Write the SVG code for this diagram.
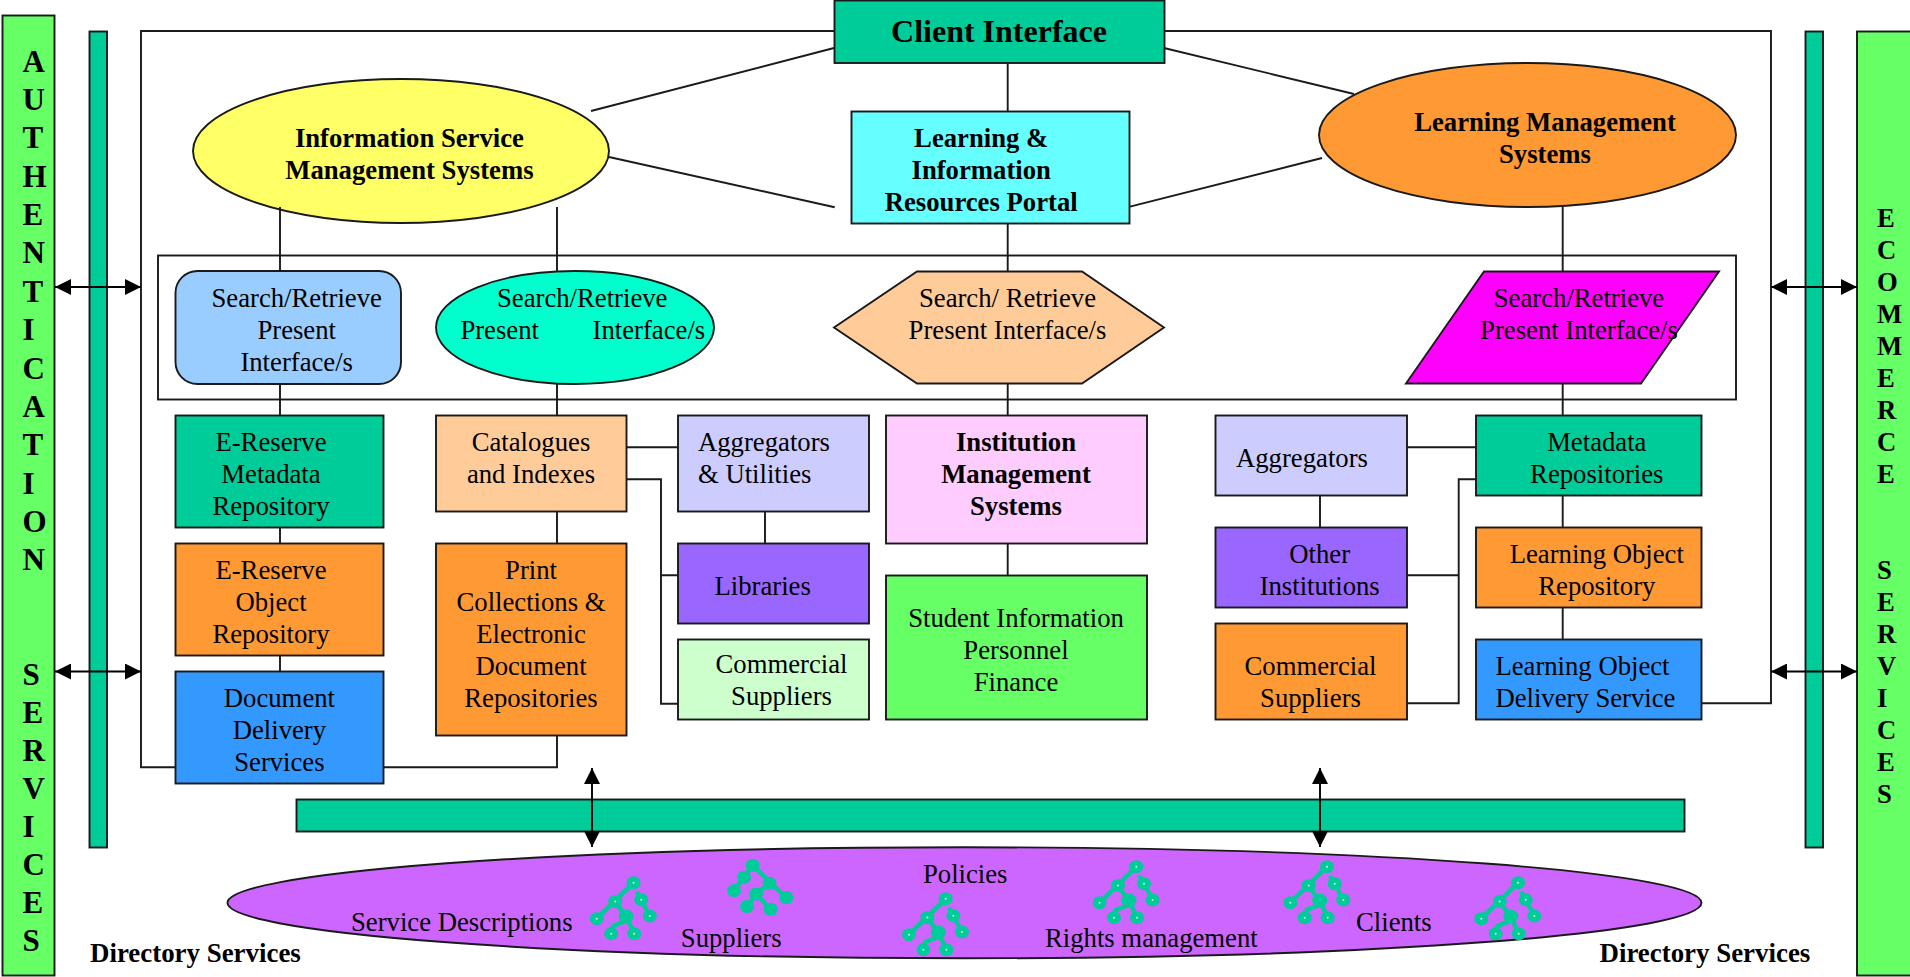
<svg xmlns="http://www.w3.org/2000/svg" width="1910" height="977" viewBox="0 0 1910 977">
<style>
text{font-family:"Liberation Serif","Times New Roman",serif;font-size:26.7px;fill:#000}
.b{font-weight:bold}
.m{text-anchor:middle}
.s{stroke:#1a1a1a;stroke-width:1.9}
.c{fill:none;stroke:#1a1a1a;stroke-width:1.9}
.a{fill:none;stroke:#000;stroke-width:1.9}
.letters text{font-weight:bold}
.big text{font-size:31px}
.ds{font-size:26.9px}
.tree line{stroke:#00cc99;stroke-width:4.5}
.tree ellipse{fill:#00cc99}
.tree circle{fill:#cfeee6}
</style>
<defs>
<marker id="ah" markerUnits="userSpaceOnUse" markerWidth="16" markerHeight="16" refX="16" refY="8" orient="auto-start-reverse" viewBox="0 0 16 16"><path d="M0 0L16 8L0 16Z" fill="#000"/></marker>
<g id="t1" class="tree">
<line x1="0" y1="0" x2="-36.7" y2="36"/><line x1="3" y1="9" x2="7.7" y2="17"/><line x1="7.7" y1="17" x2="16.3" y2="33.3"/><line x1="-15" y1="24" x2="-7.3" y2="33.7"/><line x1="-7.3" y1="33.7" x2="0.7" y2="51"/><line x1="-7.3" y1="33.7" x2="-7.3" y2="40"/><line x1="-22" y1="44" x2="-5" y2="37"/><line x1="-22.3" y1="44" x2="-22.3" y2="51"/>
<ellipse cx="0" cy="0" rx="7" ry="6.5"/><ellipse cx="-18.3" cy="18.7" rx="7" ry="6.5"/><ellipse cx="-36.7" cy="36" rx="7" ry="6.5"/><ellipse cx="7.7" cy="17" rx="7" ry="6.5"/><ellipse cx="16.3" cy="33.3" rx="7" ry="6.5"/><ellipse cx="-7.3" cy="33.7" rx="7.5" ry="7"/><ellipse cx="-22.3" cy="51" rx="7" ry="6.5"/><ellipse cx="0.7" cy="51" rx="7" ry="6.5"/>
<circle cx="0" cy="0" r="1"/><circle cx="-18.3" cy="18.7" r="1"/><circle cx="-36.7" cy="36" r="1"/><circle cx="7.7" cy="17" r="1"/><circle cx="16.3" cy="33.3" r="1"/><circle cx="-22.3" cy="51" r="1"/><circle cx="0.7" cy="51" r="1"/>
</g>
</defs>

<g id="authentication-services">
<rect class="s" x="2.5" y="15.5" width="52" height="960" fill="#66ff66"/>
<g class="letters big">
<text x="22.4" y="71.7">A</text><text x="22.4" y="110">U</text><text x="22.4" y="148.4">T</text><text x="22.4" y="186.7">H</text><text x="22.4" y="225.1">E</text><text x="22.4" y="263.4">N</text><text x="22.4" y="301.8">T</text><text x="22.4" y="340.1">I</text><text x="22.4" y="378.5">C</text><text x="22.4" y="416.8">A</text><text x="22.4" y="455.2">T</text><text x="22.4" y="493.5">I</text><text x="22.4" y="531.9">O</text><text x="22.4" y="570.2">N</text>
<text x="22.4" y="685.3">S</text><text x="22.4" y="723.3">E</text><text x="22.4" y="761.3">R</text><text x="22.4" y="799.3">V</text><text x="22.4" y="837.3">I</text><text x="22.4" y="875.3">C</text><text x="22.4" y="913.3">E</text><text x="22.4" y="951.3">S</text>
</g>
</g>
<g id="ecommerce-services">
<rect class="s" x="1857" y="31.5" width="60" height="944" fill="#66ff66"/>
<g class="letters">
<text x="1877" y="226.7">E</text><text x="1877" y="258.7">C</text><text x="1877" y="290.7">O</text><text x="1877" y="322.7">M</text><text x="1877" y="354.7">M</text><text x="1877" y="386.7">E</text><text x="1877" y="418.7">R</text><text x="1877" y="450.7">C</text><text x="1877" y="482.7">E</text>
<text x="1877" y="578.7">S</text><text x="1877" y="610.7">E</text><text x="1877" y="642.7">R</text><text x="1877" y="674.7">V</text><text x="1877" y="706.7">I</text><text x="1877" y="738.7">C</text><text x="1877" y="770.7">E</text><text x="1877" y="802.7">S</text>
</g>
</g>
<g id="directory-bar-left"><rect class="s" x="89.5" y="31.5" width="17.5" height="816" fill="#00cc99"/></g>
<g id="directory-bar-right"><rect class="s" x="1805.5" y="31.5" width="17.5" height="816" fill="#00cc99"/></g>
<g id="directory-bar-bottom"><rect class="s" x="296.5" y="799.5" width="1388" height="32" fill="#00cc99"/></g>

<g id="client-interface"><rect class="s" x="834.5" y="0.5" width="330" height="62.5" fill="#00cc99"/><text class="b m" x="999" y="42" style="font-size:32px">Client Interface</text></g>
<g id="portal"><rect class="s" x="851.5" y="111.5" width="278" height="112" fill="#66ffff"/><text class="b m" x="981.2" y="147">Learning &amp;</text><text class="b m" x="981.2" y="179">Information</text><text class="b m" x="981.2" y="211">Resources Portal</text></g>
<g id="ismss"><ellipse class="s" cx="401" cy="151" rx="208" ry="72" fill="#ffff66"/><text class="b m" x="409.4" y="147">Information Service</text><text class="b m" x="409.4" y="179">Management Systems</text></g>
<g id="lms"><ellipse class="s" cx="1527.5" cy="135" rx="208.5" ry="72" fill="#ff9933"/><text class="b m" x="1545" y="131">Learning Management</text><text class="b m" x="1545" y="163">Systems</text></g>

<g id="search-rounded"><rect class="s" x="175.5" y="271" width="225.5" height="113" rx="22" fill="#99ccff"/><text class="m" x="296.7" y="307">Search/Retrieve</text><text class="m" x="296.7" y="339">Present</text><text class="m" x="296.7" y="371">Interface/s</text></g>
<g id="search-ellipse"><ellipse class="s" cx="575" cy="327.5" rx="139" ry="56.5" fill="#00ffcc"/><text x="497" y="307">Search/Retrieve</text><text x="460.4" y="339">Present</text><text x="592.6" y="339">Interface/s</text></g>
<g id="search-hexagon"><polygon class="s" points="917,271.5 1082,271.5 1164,327.5 1082,383.5 917,383.5 834,327.5" fill="#ffcc99"/><text class="m" x="1007.5" y="307">Search/ Retrieve</text><text class="m" x="1007.5" y="339">Present Interface/s</text></g>
<g id="search-parallelogram"><polygon class="s" points="1484,271.5 1719,271.5 1641,383.5 1406,383.5" fill="#ff00ff"/><text class="m" x="1579" y="307">Search/Retrieve</text><text class="m" x="1579" y="339">Present Interface/s</text></g>

<g id="ereserve-metadata"><rect class="s" x="175.5" y="415.5" width="208" height="112" fill="#00cc99"/><text class="m" x="271" y="451.4">E-Reserve</text><text class="m" x="271" y="483.4">Metadata</text><text class="m" x="271" y="515.4">Repository</text></g>
<g id="ereserve-object"><rect class="s" x="175.5" y="543.5" width="208" height="112" fill="#ff9933"/><text class="m" x="271" y="579.4">E-Reserve</text><text class="m" x="271" y="611.4">Object</text><text class="m" x="271" y="643.4">Repository</text></g>
<g id="document-delivery"><rect class="s" x="175.5" y="671.5" width="208" height="112" fill="#3399ff"/><text class="m" x="279.4" y="707.4">Document</text><text class="m" x="279.4" y="739.4">Delivery</text><text class="m" x="279.4" y="771.4">Services</text></g>
<g id="catalogues"><rect class="s" x="436" y="415.5" width="190.5" height="96" fill="#ffcc99"/><text class="m" x="531" y="451.4">Catalogues</text><text class="m" x="531" y="483.4">and Indexes</text></g>
<g id="print-collections"><rect class="s" x="436" y="543.5" width="190.5" height="192" fill="#ff9933"/><text class="m" x="531" y="579.4">Print</text><text class="m" x="531" y="611.4">Collections &amp;</text><text class="m" x="531" y="643.4">Electronic</text><text class="m" x="531" y="675.4">Document</text><text class="m" x="531" y="707.4">Repositories</text></g>
<g id="aggregators-utilities"><rect class="s" x="678" y="415.5" width="191" height="96" fill="#ccccff"/><text x="698" y="451.4">Aggregators</text><text x="698" y="483.4">&amp; Utilities</text></g>
<g id="libraries"><rect class="s" x="678" y="543.5" width="191" height="80" fill="#9966ff"/><text x="714.5" y="595">Libraries</text></g>
<g id="commercial-left"><rect class="s" x="678" y="639.5" width="191" height="80" fill="#ccffcc"/><text class="m" x="781.5" y="673.4">Commercial</text><text class="m" x="781.5" y="705.4">Suppliers</text></g>
<g id="institution"><rect class="s" x="886" y="415.5" width="261" height="128" fill="#ffccff"/><text class="b m" x="1016" y="451">Institution</text><text class="b m" x="1016" y="483">Management</text><text class="b m" x="1016" y="515">Systems</text></g>
<g id="student"><rect class="s" x="886" y="575.5" width="261" height="144" fill="#66ff66"/><text class="m" x="1016" y="627">Student Information</text><text class="m" x="1016" y="659">Personnel</text><text class="m" x="1016" y="691">Finance</text></g>
<g id="aggregators"><rect class="s" x="1215.5" y="415.5" width="191.5" height="80" fill="#ccccff"/><text x="1236" y="467">Aggregators</text></g>
<g id="other-institutions"><rect class="s" x="1215.5" y="527.5" width="191.5" height="80" fill="#9966ff"/><text class="m" x="1319.7" y="563.4">Other</text><text class="m" x="1319.7" y="595.4">Institutions</text></g>
<g id="commercial-right"><rect class="s" x="1215.5" y="623.5" width="191.5" height="96" fill="#ff9933"/><text class="m" x="1310.5" y="675.4">Commercial</text><text class="m" x="1310.5" y="707.4">Suppliers</text></g>
<g id="metadata"><rect class="s" x="1476" y="415.5" width="225.5" height="80" fill="#00cc99"/><text class="m" x="1596.8" y="451.4">Metadata</text><text class="m" x="1596.8" y="483.4">Repositories</text></g>
<g id="lo-repository"><rect class="s" x="1476" y="527.5" width="225.5" height="80" fill="#ff9933"/><text class="m" x="1596.8" y="563.4">Learning Object</text><text class="m" x="1596.8" y="595.4">Repository</text></g>
<g id="lo-delivery"><rect class="s" x="1476" y="639.5" width="225.5" height="80" fill="#3399ff"/><text x="1495.4" y="675.4">Learning Object</text><text x="1495.4" y="707.4">Delivery Service</text></g>

<g id="directory">
<ellipse class="s" cx="964.5" cy="902.8" rx="737" ry="55.5" fill="#cc66ff"/>
<text x="351" y="931.4">Service Descriptions</text><text x="680.8" y="946.7">Suppliers</text><text x="923" y="883.4">Policies</text><text x="1045" y="947.4">Rights management</text><text x="1356" y="931.4">Clients</text>
<use href="#t1" x="633.5" y="882.7"/><use href="#t1" x="945.7" y="898.7"/><use href="#t1" x="1136.3" y="866.7"/><use href="#t1" x="1327" y="866.7"/><use href="#t1" x="1518" y="882.7"/>
<g class="tree">
<line x1="752.6" y1="865.3" x2="734" y2="890.6"/><line x1="752.6" y1="865.3" x2="786" y2="897.6"/><line x1="769.6" y1="883.3" x2="756" y2="894"/><line x1="756" y1="894" x2="747" y2="906.6"/><line x1="756" y1="894" x2="770.6" y2="909.3"/>
<ellipse cx="752.6" cy="865.3" rx="7" ry="6.5"/><ellipse cx="744" cy="877.3" rx="7" ry="6.5"/><ellipse cx="734" cy="890.6" rx="7" ry="6.5"/><ellipse cx="769.6" cy="883.3" rx="7" ry="6.5"/><ellipse cx="786.3" cy="897.6" rx="7" ry="6.5"/><ellipse cx="756" cy="894" rx="7" ry="6.5"/><ellipse cx="747" cy="906.6" rx="7" ry="6.5"/><ellipse cx="770.6" cy="909.3" rx="7" ry="6.5"/>
</g>
</g>

<g id="directory-left-label"><text class="b ds" x="90" y="961.7">Directory Services</text></g>
<g id="directory-right-label"><text class="b ds" x="1599.5" y="961.7">Directory Services</text></g>

<g id="connectors">
<path class="c" d="M834 31H141V767.3H175"/>
<path class="c" d="M1164 31H1771V703.3H1702"/>
<rect class="c" x="158" y="255.5" width="1578" height="144"/>
<path class="c" d="M834 48L591 111"/>
<path class="c" d="M1164 48L1354 94"/>
<path class="c" d="M1007.7 63V111"/>
<path class="c" d="M609 157L834.7 207.3"/>
<path class="c" d="M1130 206.7L1322 158"/>
<path class="c" d="M280 207V271M557 207V271M1007.7 224V271M1562.7 207V271"/>
<path class="c" d="M280 384V415M557 384V415M1007.7 384V415M1562.7 384V415"/>
<path class="c" d="M280 527V543M280 655V671M557 511V543M765 511V543M1007.7 543V575M1320 495V527M1562.7 495V527M1562.7 607V639"/>
<path class="c" d="M384 767.3H557V736"/>
<path class="c" d="M627 447.3H678M627 479.3H661V703.7H678M661 575.3H678"/>
<path class="c" d="M1407 447.3H1476M1476 479.3H1458.7V703.3H1407M1407 575.3H1458.7"/>
<line class="a" x1="55" y1="287" x2="141" y2="287" marker-start="url(#ah)" marker-end="url(#ah)"/>
<line class="a" x1="55" y1="671.5" x2="141" y2="671.5" marker-start="url(#ah)" marker-end="url(#ah)"/>
<line class="a" x1="1771" y1="287" x2="1857" y2="287" marker-start="url(#ah)" marker-end="url(#ah)"/>
<line class="a" x1="1771" y1="671.5" x2="1857" y2="671.5" marker-start="url(#ah)" marker-end="url(#ah)"/>
<line class="a" x1="592" y1="768" x2="592" y2="847" marker-start="url(#ah)" marker-end="url(#ah)"/>
<line class="a" x1="1320" y1="768" x2="1320" y2="847" marker-start="url(#ah)" marker-end="url(#ah)"/>
</g>
</svg>
